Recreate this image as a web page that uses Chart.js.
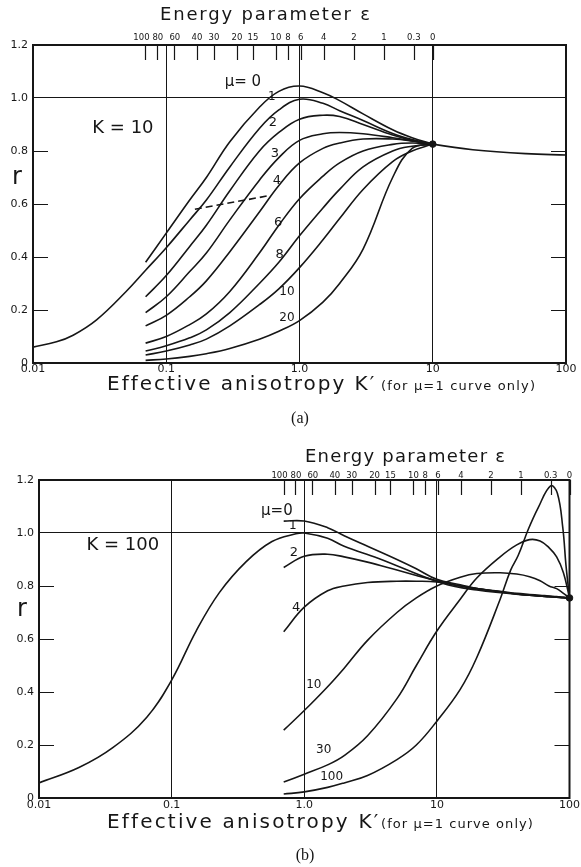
<!DOCTYPE html>
<html><head><meta charset="utf-8">
<script src="https://cdn.jsdelivr.net/npm/chart.js@4"></script>
<style>
html,body{margin:0;padding:0;background:#fff;}
#wrap{position:relative;width:581px;height:867px;overflow:hidden;}
canvas{position:absolute;left:0;}
#ca{top:0;} #cb{top:433px;}
</style></head><body>
<div id="wrap"><canvas id="ca" width="581" height="433"></canvas><canvas id="cb" width="581" height="434"></canvas></div>
<script>
// ---------- tick labels ----------
const epsLabels = ['100','80','60','40','30','20','15','10','8','6','4','2','1','0.3','0'];
const epsKpA = [0.0698,0.085,0.114,0.170,0.228,0.339,0.447,0.665,0.818,1.02,1.52,2.56,4.30,7.21,10];
const epsKpB = [0.698,0.85,1.14,1.70,2.28,3.39,4.47,6.65,8.18,10.2,15.2,25.6,43.0,72.1,100];
const xTickVals = [0.01,0.1,1,10,100];
const xTickLabels = ['0.01','0.1','1.0','10','100'];
const yTickVals = [0,0.2,0.4,0.6,0.8,1.0,1.2];
const yTickLabels = ['0','0.2','0.4','0.6','0.8','1.0','1.2'];

// ---------- panel (a): K = 10 ----------
const kA_mu1 = [0.01,0.015,0.02,0.03,0.05,0.07,0.1,0.15,0.2,0.3,0.5,0.7,1,1.5,2,3,5,7,10,20,50,100];
const rA_mu1 = [0.06,0.08,0.105,0.163,0.27,0.35,0.435,0.54,0.615,0.74,0.885,0.955,0.995,0.98,0.952,0.915,0.866,0.843,0.826,0.805,0.79,0.785];
const kA = [0.07,0.1,0.15,0.2,0.3,0.5,0.7,1,1.5,2,3,5,7,10];
const rA_mu0  = [0.38,0.49,0.615,0.70,0.835,0.965,1.025,1.045,1.02,0.99,0.94,0.88,0.85,0.826];
const rA_mu2  = [0.25,0.33,0.44,0.52,0.65,0.80,0.87,0.92,0.935,0.93,0.90,0.86,0.84,0.826];
const rA_mu3  = [0.19,0.25,0.345,0.415,0.54,0.69,0.775,0.84,0.865,0.87,0.865,0.85,0.838,0.826];
const rA_mu4  = [0.14,0.18,0.25,0.31,0.42,0.57,0.67,0.755,0.81,0.83,0.845,0.845,0.838,0.826];
const rA_mu6  = [0.075,0.10,0.145,0.185,0.27,0.415,0.52,0.62,0.705,0.755,0.80,0.825,0.83,0.826];
const rA_mu8  = [0.045,0.065,0.095,0.125,0.19,0.30,0.38,0.48,0.585,0.655,0.74,0.80,0.818,0.826];
const rA_mu10 = [0.03,0.045,0.068,0.09,0.14,0.22,0.28,0.36,0.465,0.545,0.655,0.76,0.80,0.826];
const rA_mu20 = [0.01,0.015,0.025,0.035,0.055,0.09,0.12,0.16,0.23,0.30,0.43,0.70,0.81,0.826];
const kA_dash = [0.164,0.569];
const rA_dash = [0.58,0.63];
const kA_dot = [10];
const rA_dot = [0.826];

// ---------- panel (b): K = 100 ----------
const kB_mu1 = [0.01,0.02,0.036,0.065,0.1,0.153,0.229,0.365,0.571,0.865,1,1.5,2,3.6,11,20,50,100];
const rB_mu1 = [0.057,0.115,0.19,0.305,0.445,0.63,0.775,0.892,0.968,0.997,1.0,0.98,0.95,0.905,0.81,0.785,0.765,0.755];
const kB = [0.7,1,1.5,2,3,5,7,10,15,20,30,40,50,60,70,80,90,100];
const rB_mu0  = [1.045,1.045,1.02,0.99,0.95,0.90,0.865,0.825,0.805,0.79,0.778,0.77,0.765,0.762,0.76,0.758,0.756,0.755];
const rB_mu2  = [0.87,0.912,0.92,0.91,0.89,0.86,0.84,0.82,0.80,0.79,0.778,0.77,0.765,0.762,0.76,0.758,0.756,0.755];
const rB_mu4  = [0.627,0.72,0.782,0.80,0.813,0.818,0.818,0.815,0.80,0.79,0.78,0.772,0.768,0.765,0.762,0.76,0.757,0.755];
const rB_mu10 = [0.256,0.33,0.42,0.49,0.595,0.70,0.755,0.80,0.833,0.847,0.85,0.845,0.835,0.82,0.80,0.79,0.772,0.755];
const rB_mu30 = [0.06,0.09,0.125,0.16,0.235,0.375,0.50,0.63,0.75,0.83,0.91,0.955,0.975,0.97,0.945,0.91,0.85,0.755];
const kB_mu100 = [0.7,1,1.5,2,3,5,7,10,15,20,30,36,41,49,58,72,81,89,94,100];
const rB_mu100 = [0.015,0.023,0.04,0.057,0.085,0.145,0.20,0.29,0.41,0.53,0.75,0.86,0.915,1.015,1.095,1.178,1.15,1.02,0.88,0.755];
const kB_dot = [100];
const rB_dot = [0.755];

// ---------- curve labels ----------
const labelsA = [
  {t:'μ= 0', k:0.376, r:1.06, s:15},
  {t:'1', k:0.62, r:1.004, s:12}, {t:'2', k:0.63, r:0.906, s:13}, {t:'3', k:0.653, r:0.79, s:13},
  {t:'4', k:0.676, r:0.69, s:13}, {t:'6', k:0.69, r:0.528, s:13}, {t:'8', k:0.71, r:0.41, s:13},
  {t:'10', k:0.804, r:0.268, s:12}, {t:'20', k:0.804, r:0.17, s:12},
  {t:'K = 10', k:0.0473, r:0.887, s:18}
];
const labelsB = [
  {t:'μ=0', k:0.622, r:1.083, s:15},
  {t:'1', k:0.82, r:1.026, s:12}, {t:'2', k:0.835, r:0.925, s:13}, {t:'4', k:0.87, r:0.72, s:13},
  {t:'10', k:1.18, r:0.426, s:12}, {t:'30', k:1.40, r:0.18, s:12}, {t:'100', k:1.61, r:0.08, s:12},
  {t:'K = 100', k:0.0428, r:0.955, s:18}
];

const INK = '#161616';
const SANS = '"DejaVu Sans", sans-serif';
// small horizontal nudges for crowded top labels (style only)
const epsNudge = [-4,1,1,0,0,0,0,0,0,0,0,0,0,0,0];
Chart.defaults.font.family = SANS;
Chart.defaults.color = INK;

function fitText(ctx, text, x, y, w) {
  ctx.letterSpacing = '0px';
  if (w && text.length > 1) {
    const m = ctx.measureText(text).width;
    ctx.letterSpacing = ((w - m) / (text.length - 1)).toFixed(2) + 'px';
  }
  ctx.fillText(text, x, y);
  ctx.letterSpacing = '0px';
}

function decorPlugin(P) {
  return {
    id: 'decor',
    afterDatasetsDraw(chart) {
      const {ctx, chartArea: ca, scales} = chart;
      const y = scales.y, xt = scales.xTop;
      ctx.save();
      ctx.strokeStyle = INK; ctx.fillStyle = INK;
      ctx.lineWidth = 2;
      ctx.strokeRect(ca.left, ca.top, ca.right - ca.left, ca.bottom - ca.top);
      ctx.lineWidth = 1.2;
      ctx.beginPath();
      [0.2,0.4,0.6,0.8].forEach(v => {
        const py = Math.round(y.getPixelForValue(v)) + 0.5;
        ctx.moveTo(ca.left, py); ctx.lineTo(ca.left + 15, py);
        ctx.moveTo(ca.right - 15, py); ctx.lineTo(ca.right, py);
      });
      P.epsK.forEach(k => {
        const px = Math.round(xt.getPixelForValue(k)) + 0.5;
        ctx.moveTo(px, ca.top); ctx.lineTo(px, ca.top + 15);
      });
      ctx.stroke();
      // energy-parameter tick labels, placed through the top scale
      ctx.font = '8.5px ' + SANS;
      ctx.textAlign = 'center'; ctx.textBaseline = 'alphabetic';
      P.epsK.forEach((k, i) => {
        ctx.fillText(epsLabels[i], xt.getPixelForValue(k) + epsNudge[i], ca.top - P.topPad);
      });
      ctx.textAlign = 'center'; ctx.textBaseline = 'middle';
      P.labels.forEach(l => {
        ctx.font = l.s + 'px ' + SANS;
        ctx.fillText(l.t, scales.x.getPixelForValue(l.k), y.getPixelForValue(l.r));
      });
      P.titles.forEach(t => {
        ctx.font = t.f;
        ctx.textAlign = t.a || 'left';
        ctx.textBaseline = t.b || 'alphabetic';
        fitText(ctx, t.t, t.x, t.y, t.w);
      });
      ctx.restore();
    }
  };
}

function makePanel(id, P) {
  const ds = P.series.map(s => ({
    data: s.k.map((k, i) => ({x: k, y: s.r[i]})),
    xAxisID: 'x', yAxisID: 'y',
    borderColor: INK, borderWidth: 1.6, borderDash: s.dash || [],
    pointRadius: 0, tension: s.dash ? 0 : 0.4, fill: false
  }));
  ds.push({
    data: P.dot.k.map((k, i) => ({x: k, y: P.dot.r[i]})),
    xAxisID: 'x', yAxisID: 'y',
    showLine: false, pointRadius: 3.3, pointBackgroundColor: INK, pointBorderColor: INK, clip: false
  });
  return new Chart(document.getElementById(id), {
    type: 'line',
    data: {datasets: ds},
    options: {
      responsive: false, animation: false, devicePixelRatio: 1,
      layout: {padding: {left: 0, right: P.padR, top: 0, bottom: 0}},
      plugins: {legend: {display: false}, tooltip: {enabled: false}},
      scales: {
        x: {type: 'logarithmic', position: 'bottom', min: 0.01, max: 100,
          afterBuildTicks: s => { s.ticks = xTickVals.map(v => ({value: v})); },
          afterFit: s => { s.height = P.botH; },
          ticks: {callback: (v, i) => xTickLabels[i], autoSkip: false, maxRotation: 0, minRotation: 0,
                  padding: P.xPad, color: INK, font: {size: 11}},
          grid: {color: c => (c.tick && c.tick.value > 0.011 && c.tick.value < 99) ? INK : 'rgba(0,0,0,0)',
                 lineWidth: 1, drawTicks: false},
          border: {display: false}},
        xTop: {type: 'logarithmic', position: 'top', min: 0.01, max: 100,
          afterBuildTicks: s => { s.ticks = P.epsK.map(v => ({value: v})); },
          afterFit: s => { s.height = P.topH; },
          ticks: {display: false},
          grid: {display: false, drawTicks: false}, border: {display: false}},
        y: {type: 'linear', position: 'left', min: 0, max: 1.2,
          afterBuildTicks: s => { s.ticks = yTickVals.map(v => ({value: v})); },
          afterFit: s => { s.width = P.leftW; },
          ticks: {callback: (v, i) => yTickLabels[i], padding: 5, color: INK, font: {size: 11}},
          grid: {color: c => (c.tick && Math.abs(c.tick.value - 1) < 1e-6) ? INK : 'rgba(0,0,0,0)',
                 lineWidth: 1, drawTicks: false},
          border: {display: false}}
      }
    },
    plugins: [decorPlugin(P)]
  });
}

makePanel('ca', {
  padR: 15, botH: 70, topH: 45, leftW: 33, xPad: 0, topPad: 5, epsK: epsKpA,
  series: [
    {k: kA_mu1, r: rA_mu1}, {k: kA, r: rA_mu0}, {k: kA, r: rA_mu2}, {k: kA, r: rA_mu3},
    {k: kA, r: rA_mu4}, {k: kA, r: rA_mu6}, {k: kA, r: rA_mu8}, {k: kA, r: rA_mu10},
    {k: kA, r: rA_mu20}, {k: kA_dash, r: rA_dash, dash: [7, 4]}
  ],
  dot: {k: kA_dot, r: rA_dot},
  labels: labelsA,
  titles: [
    {t: 'Energy parameter ε', x: 160, y: 20, w: 210, f: '18px ' + SANS},
    {t: 'Effective anisotropy K′', x: 107, y: 390, w: 267, f: '20px ' + SANS},
    {t: '(for μ=1 curve only)', x: 381, y: 390, w: 154, f: '13px ' + SANS},
    {t: '(a)', x: 300, y: 423, a: 'center', f: '16px "Liberation Serif", serif'},
    {t: 'r', x: 17, y: 178, a: 'center', b: 'middle', f: '24px ' + SANS}
  ]
});

makePanel('cb', {
  padR: 9, botH: 69, topH: 47, leftW: 39, xPad: 1, topPad: 2, epsK: epsKpB,
  series: [
    {k: kB_mu1, r: rB_mu1}, {k: kB, r: rB_mu0}, {k: kB, r: rB_mu2}, {k: kB, r: rB_mu4},
    {k: kB, r: rB_mu10}, {k: kB, r: rB_mu30}, {k: kB_mu100, r: rB_mu100}
  ],
  dot: {k: kB_dot, r: rB_dot},
  labels: labelsB,
  titles: [
    {t: 'Energy parameter ε', x: 305, y: 29, w: 200, f: '18px ' + SANS},
    {t: 'Effective anisotropy K′', x: 107, y: 395, w: 271, f: '20px ' + SANS},
    {t: '(for μ=1 curve only)', x: 381, y: 395, w: 152, f: '13px ' + SANS},
    {t: '(b)', x: 305, y: 427, a: 'center', f: '16px "Liberation Serif", serif'},
    {t: 'r', x: 22, y: 177, a: 'center', b: 'middle', f: '24px ' + SANS}
  ]
});
</script>
</body></html>
